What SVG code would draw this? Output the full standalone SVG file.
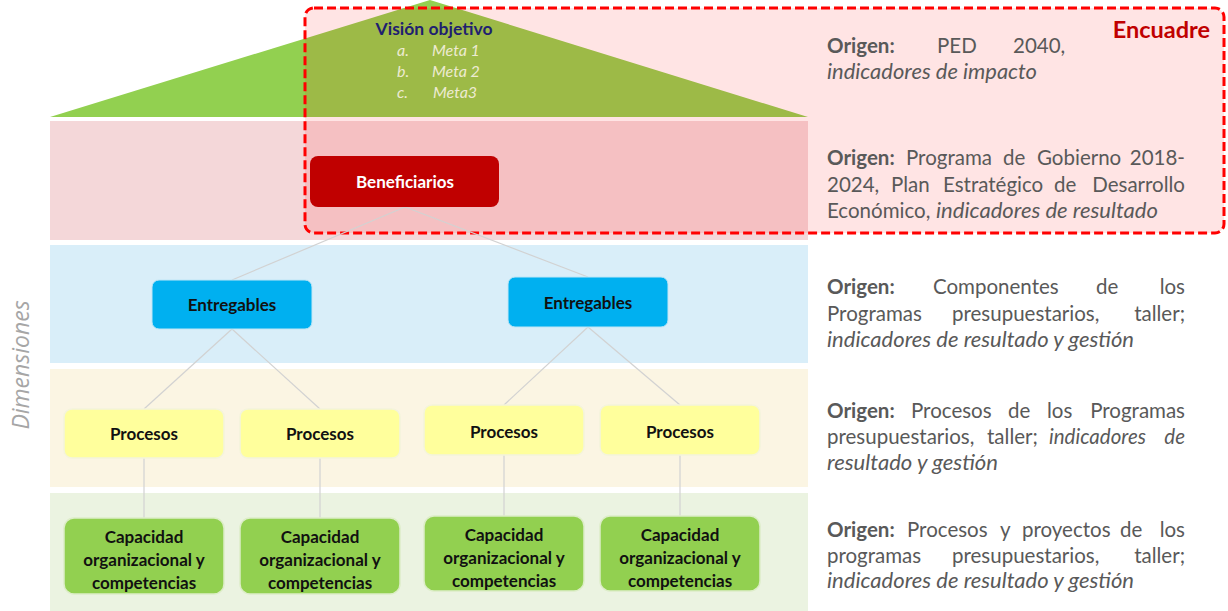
<svg xmlns="http://www.w3.org/2000/svg" width="1228" height="611" viewBox="0 0 1228 611">
<style>
.node text{font-family:Lato,"Liberation Sans",sans-serif;font-weight:bold;font-size:17px;text-anchor:middle;fill:#111}
.cap{fill:#92D050;stroke:#DDEDC8;stroke-width:1.5}
.pro{fill:#FFFF9C;stroke:#F4F4DC;stroke-width:1.5}
.ent{fill:#00B0F0;stroke:#BFE6F6;stroke-width:1}
.conn line{stroke:#D2D2D2;stroke-width:1.2}
.src text{font-family:Lato,"Liberation Sans",sans-serif;font-size:20.5px;fill:#595959}
.b{font-weight:bold}
.i{font-style:italic}
.e{text-anchor:end}
</style>
<rect width="1228" height="611" fill="#fff"/>
<g id="bands">
<rect x="50" y="121" width="758" height="119" fill="#F4D7D9"/>
<rect x="50" y="245" width="758" height="118" fill="#D9EEF9"/>
<rect x="50" y="369" width="758" height="118" fill="#FBF5E3"/>
<rect x="50" y="493" width="758" height="118" fill="#EBF3E1"/>
</g>
<g id="vision">
<polygon points="430,0 50,117 808,117" fill="#92D050"/>
</g>
<g id="encuadre">
<rect x="305" y="8" width="919" height="225" rx="9" fill="#FF0000" fill-opacity="0.105" stroke="#FF0000" stroke-width="3" stroke-dasharray="9,4"/>
<text x="1210" y="38" text-anchor="end" font-family="Lato,'Liberation Sans',sans-serif" font-weight="bold" font-size="23.5" fill="#C00000">Encuadre</text>
</g>
<g id="vision-text" font-family="Lato,'Liberation Sans',sans-serif">
<text x="434" y="35" text-anchor="middle" font-weight="bold" font-size="17.5" fill="#1F1F70">Visión objetivo</text>
<g font-style="italic" font-size="16" fill="#EDEBD2">
<text x="397" y="56">a.</text><text x="432" y="56">Meta 1</text>
<text x="397" y="77">b.</text><text x="432" y="77">Meta 2</text>
<text x="397" y="98">c.</text><text x="433" y="98">Meta3</text>
</g>
</g>
<text x="0" y="0" transform="translate(29,365) rotate(-90)" text-anchor="middle" font-family="'Open Sans',Lato,sans-serif" font-style="italic" font-size="23" fill="#A6A6A6">Dimensiones</text>
<g class="conn" id="connectors">
<line x1="405" y1="207" x2="232" y2="280"/>
<line x1="405" y1="207" x2="588" y2="277"/>
<line x1="232" y1="329" x2="144" y2="409"/>
<line x1="232" y1="329" x2="320" y2="409"/>
<line x1="588" y1="327" x2="504" y2="405"/>
<line x1="588" y1="327" x2="680" y2="405"/>
<line x1="144" y1="458" x2="144" y2="518"/>
<line x1="320" y1="458" x2="320" y2="518"/>
<line x1="504" y1="455" x2="504" y2="516"/>
<line x1="680" y1="455" x2="680" y2="516"/>
</g>
<g class="node" id="beneficiarios">
<rect x="310" y="156" width="189" height="51" rx="8" fill="#C00000"/>
<text x="405" y="188" style="fill:#fff">Beneficiarios</text>
</g>
<g class="node" id="entregables1">
<rect class="ent" x="152" y="280" width="160" height="49" rx="7"/>
<text x="232" y="311">Entregables</text>
</g>
<g class="node" id="entregables2">
<rect class="ent" x="508" y="277" width="160" height="50" rx="7"/>
<text x="588" y="309">Entregables</text>
</g>
<g class="node" id="procesos1">
<rect class="pro" x="64" y="409" width="160" height="49" rx="8"/>
<text x="144" y="440">Procesos</text>
</g>
<g class="node" id="procesos2">
<rect class="pro" x="240" y="409" width="160" height="49" rx="8"/>
<text x="320" y="440">Procesos</text>
</g>
<g class="node" id="procesos3">
<rect class="pro" x="424" y="405" width="160" height="50" rx="8"/>
<text x="504" y="438">Procesos</text>
</g>
<g class="node" id="procesos4">
<rect class="pro" x="600" y="405" width="160" height="50" rx="8"/>
<text x="680" y="438">Procesos</text>
</g>
<g class="node" id="capacidad1">
<rect class="cap" x="64" y="518" width="160" height="76" rx="10"/>
<text x="144" y="543">Capacidad</text><text x="144" y="566">organizacional y</text><text x="144" y="589">competencias</text>
</g>
<g class="node" id="capacidad2">
<rect class="cap" x="240" y="518" width="160" height="76" rx="10"/>
<text x="320" y="543">Capacidad</text><text x="320" y="566">organizacional y</text><text x="320" y="589">competencias</text>
</g>
<g class="node" id="capacidad3">
<rect class="cap" x="424" y="516" width="160" height="75" rx="10"/>
<text x="504" y="541">Capacidad</text><text x="504" y="564">organizacional y</text><text x="504" y="587">competencias</text>
</g>
<g class="node" id="capacidad4">
<rect class="cap" x="600" y="516" width="160" height="75" rx="10"/>
<text x="680" y="541">Capacidad</text><text x="680" y="564">organizacional y</text><text x="680" y="587">competencias</text>
</g>
<g class="src" id="origen">
<text y="53"><tspan class="b" x="827">Origen:</tspan><tspan x="937">PED</tspan><tspan x="1013">2040,</tspan></text>
<text y="79" class="i" x="827" textLength="210" lengthAdjust="spacingAndGlyphs">indicadores de impacto</text>

<text y="165"><tspan class="b" x="827">Origen:</tspan><tspan x="906">Programa</tspan><tspan x="1003">de</tspan><tspan x="1037">Gobierno</tspan></text>
<text y="165" class="e" x="1185">2018-</text>
<text y="192"><tspan x="827">2024,</tspan><tspan x="891">Plan</tspan><tspan x="943">Estratégico</tspan><tspan x="1054">de</tspan></text>
<text y="192" class="e" x="1185">Desarrollo</text>
<text y="218"><tspan x="827">Económico,</tspan></text>
<text y="218" class="i" x="936" textLength="222" lengthAdjust="spacingAndGlyphs">indicadores de resultado</text>

<text y="294"><tspan class="b" x="827">Origen:</tspan><tspan x="933">Componentes</tspan><tspan x="1096">de</tspan></text>
<text y="294" class="e" x="1185">los</text>
<text y="321"><tspan x="827">Programas</tspan><tspan x="952">presupuestarios,</tspan></text>
<text y="321" class="e" x="1185">taller;</text>
<text y="347" class="i" x="827" textLength="307" lengthAdjust="spacingAndGlyphs">indicadores de resultado y gestión</text>

<text y="418"><tspan class="b" x="827">Origen:</tspan><tspan x="911">Procesos</tspan><tspan x="1008">de</tspan><tspan x="1047">los</tspan></text>
<text y="418" class="e" x="1185">Programas</text>
<text y="444"><tspan x="827">presupuestarios,</tspan><tspan x="987">taller;</tspan><tspan class="i" x="1049">indicadores</tspan></text>
<text y="444" class="e i" x="1185">de</text>
<text y="470" class="i" x="827" textLength="171" lengthAdjust="spacingAndGlyphs">resultado y gestión</text>

<text y="537"><tspan class="b" x="827">Origen:</tspan><tspan x="907">Procesos</tspan><tspan x="1000">y</tspan><tspan x="1022">proyectos</tspan><tspan x="1120">de</tspan></text>
<text y="537" class="e" x="1185">los</text>
<text y="563"><tspan x="827">programas</tspan><tspan x="952">presupuestarios,</tspan></text>
<text y="563" class="e" x="1185">taller;</text>
<text y="588" class="i" x="827" textLength="307" lengthAdjust="spacingAndGlyphs">indicadores de resultado y gestión</text>
</g>
</svg>
